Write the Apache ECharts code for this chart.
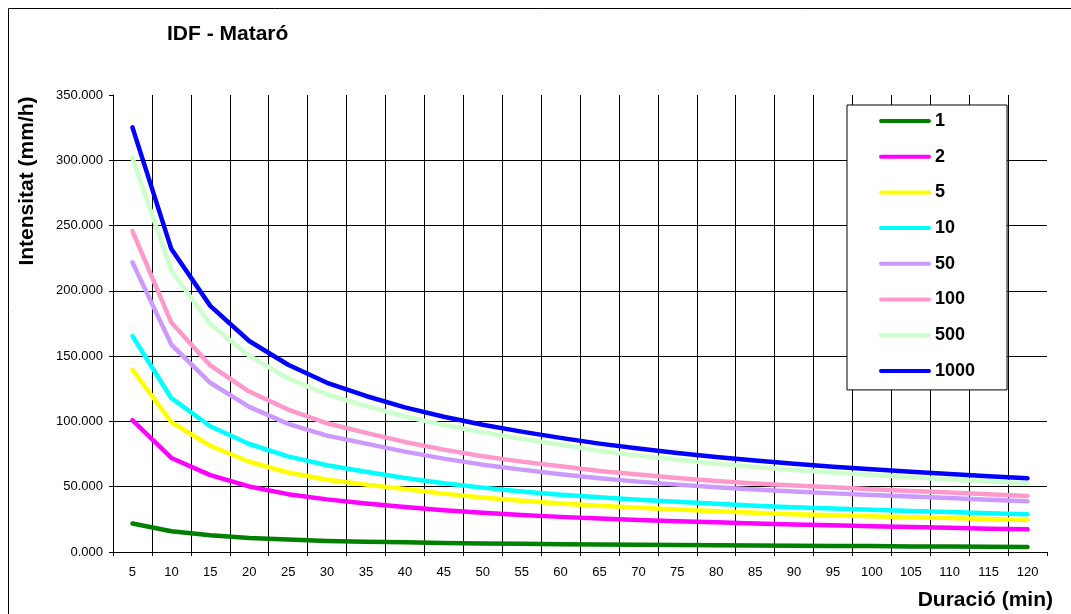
<!DOCTYPE html>
<html><head><meta charset="utf-8">
<script src="https://cdn.jsdelivr.net/npm/echarts@6/dist/echarts.min.js"></script>
<style>html,body{margin:0;padding:0;background:#fff}#c{width:1071px;height:614px}</style>
</head><body><div id="c"></div>
<script>
const durations = ['5','10','15','20','25','30','35','40','45','50','55','60','65','70','75','80','85','90','95','100','105','110','115','120'];
const yTickLabels = ['0.000','50.000','100.000','150.000','200.000','250.000','300.000','350.000'];
const seriesNames = ['1','2','5','10','50','100','500','1000'];
const seriesColors = ['#008000','#FF00FF','#FFFF00','#00FFFF','#CC99FF','#FF99CC','#CCFFCC','#0000FF'];
const T1    = [21.8,15.9,12.8,10.8,9.5,8.5,7.9,7.4,6.9,6.6,6.3,6.0,5.8,5.6,5.4,5.2,5.0,4.8,4.6,4.5,4.3,4.2,4.0,3.9];
const T2    = [100.9,72.0,58.9,50.2,44.3,40.3,37.2,34.4,32.0,30.0,28.3,26.9,25.7,24.6,23.6,22.7,21.9,21.1,20.4,19.7,19.1,18.5,17.9,17.4];
const T5    = [139.6,99.4,81.4,69.1,60.9,55.4,51.6,48.2,44.7,41.7,39.2,37.1,35.4,33.9,32.5,31.2,30.0,29.0,28.2,27.4,26.7,26.0,25.2,24.5];
const T10   = [165.4,117.8,96.3,82.7,73.2,66.4,61.4,56.7,52.7,49.3,46.3,43.8,41.9,40.1,38.4,36.9,35.5,34.3,33.3,32.3,31.4,30.6,29.7,28.9];
const T50   = [221.8,158.8,129.6,111.1,98.1,89.1,83.0,76.9,71.5,66.9,63.1,59.5,56.4,53.9,51.6,49.6,47.9,46.3,44.9,43.7,42.5,41.3,40.0,38.8];
const T100  = [245.8,175.7,142.9,122.9,109.1,98.6,91.2,84.3,78.4,73.3,69.2,65.6,62.1,59.3,56.7,54.4,52.5,51.0,49.5,48.1,46.7,45.5,44.2,42.9];
const T500  = [301.7,215.4,174.5,150.3,133.0,120.6,111.8,103.8,97.2,91.6,86.7,82.2,77.6,73.8,70.6,67.6,65.1,62.8,60.8,59.0,57.2,55.6,54.1,52.6];
const T1000 = [325.2,232.0,188.5,161.6,143.4,129.6,119.5,110.8,103.6,97.5,92.2,87.4,83.0,79.2,75.8,72.7,70.0,67.5,65.3,63.3,61.4,59.7,58.0,56.4];
const allData = [T1,T2,T5,T10,T50,T100,T500,T1000];

const FONT = 'Liberation Sans, Arial, sans-serif';
const chart = echarts.init(document.getElementById('c'), null, {renderer:'canvas'});

const xSplitColors = durations.map(()=> '#000');
xSplitColors.unshift('rgba(0,0,0,0)');
xSplitColors[durations.length] = 'rgba(0,0,0,0)';
const ySplitColors = yTickLabels.map((l,i)=> i === yTickLabels.length-1 ? 'rgba(0,0,0,0)' : '#000');
const capsule = 'path://M2,0 L50,0 A2,2 0 0 1 50,4 L2,4 A2,2 0 0 1 2,0 Z';

chart.setOption({
  backgroundColor: '#fff',
  animation: false,
  title: {
    text: 'IDF - Mataró', left: 167, top: 24, padding: 0,
    textStyle: {fontFamily: FONT, fontSize: 21, fontWeight: 'bold', color: '#000'}
  },
  grid: {left: 113, top: 95, width: 934, height: 457, containLabel: false},
  legend: {
    orient: 'vertical', left: 847, top: 105,
    padding: [7, 32, 10, 32],
    itemWidth: 52, itemHeight: 4.5, itemGap: 17.7,
    icon: capsule,
    backgroundColor: '#fff', borderColor: '#000', borderWidth: 1,
    textStyle: {fontFamily: FONT, fontSize: 18, fontWeight: 'bold', color: '#000', padding: [0,0,0,-1]},
    data: seriesNames
  },
  xAxis: {
    type: 'category', data: durations, boundaryGap: true,
    axisLine: {show: true, lineStyle: {color: '#000', width: 1}},
    axisTick: {show: true, interval: 0, length: 4, lineStyle: {color: '#000'}},
    axisLabel: {interval: 0, margin: 14, color: '#000', fontFamily: FONT, fontSize: 13},
    splitLine: {show: true, interval: 0, lineStyle: {color: xSplitColors, width: 1}}
  },
  yAxis: {
    type: 'value', min: 0, max: 350, interval: 50,
    axisLine: {show: true, lineStyle: {color: '#000', width: 1}},
    axisTick: {show: true, length: 4, lineStyle: {color: '#000'}},
    axisLabel: {margin: 10, color: '#000', fontFamily: FONT, fontSize: 13,
      formatter: (v) => yTickLabels[Math.round(v/50)]},
    splitLine: {show: true, lineStyle: {color: ySplitColors, width: 1}}
  },
  graphic: [
    {type: 'rect', shape: {x: 8.5, y: 8.5, width: 1200, height: 800}, style: {fill: 'none', stroke: '#000', lineWidth: 1}, silent: true, z: 100},
    {type: 'text', x: 27, y: 181, rotation: Math.PI/2,
      style: {text: 'Intensitat (mm/h)', font: 'bold 21px ' + FONT, fill: '#000', textAlign: 'center', textVerticalAlign: 'middle'}},
    {type: 'text', x: 1053, y: 600,
      style: {text: 'Duració (min)', font: 'bold 21px ' + FONT, fill: '#000', textAlign: 'right', textVerticalAlign: 'middle'}}
  ],
  series: seriesNames.map((n, i) => ({
    name: n, type: 'line', data: allData[i], symbol: 'none', showSymbol: false,
    lineStyle: {color: seriesColors[i], width: 4.5, cap: 'round', join: 'round'},
    itemStyle: {color: seriesColors[i]}
  }))
});
</script></body></html>
